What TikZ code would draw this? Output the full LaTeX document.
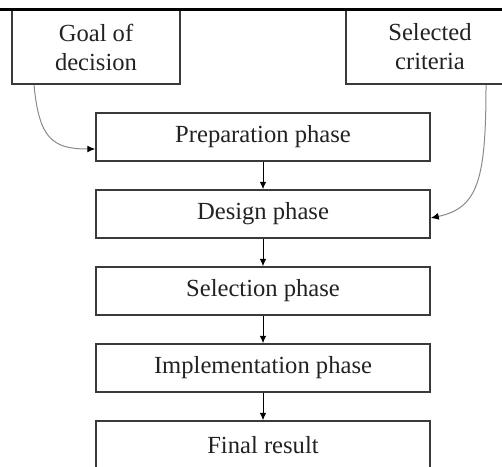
\documentclass[tikz,border=0pt]{standalone}
\usepackage{fontspec}
\setmainfont{Liberation Serif}
\usetikzlibrary{arrows.meta}
\definecolor{boxline}{HTML}{3A3A3A}
\definecolor{curveline}{HTML}{8A8A8A}
\definecolor{txt}{HTML}{222222}
\tikzset{
  phasebox/.style={draw=boxline, line width=1.5pt, minimum width=334pt,
    minimum height=48pt, inner sep=0pt, text=txt,
    font=\fontsize{24.6}{29}\selectfont},
  inputbox/.style={draw=boxline, line width=1.5pt, minimum width=168pt,
    minimum height=74pt, inner sep=0pt, align=center, text=txt,
    font=\fontsize{24.6}{29}\selectfont},
  flow/.style={draw=black, line width=0.9pt, -{Latex[length=7.5pt,width=6.5pt]}},
  feed/.style={draw=curveline, line width=1pt,
    -{Latex[length=8pt,width=7pt,color=black]}}
}
\begin{document}
\begin{tikzpicture}[x=1pt,y=-1pt]
  \useasboundingbox (0,0) rectangle (502,466);
  \clip (0,0) rectangle (502,466);

  % input boxes
  \node[inputbox] (goal) at (96,47) {Goal of\\decision};
  \node[inputbox] (crit) at (430,47) {Selected\\criteria};

  % rule along the top edge
  \draw[line width=3pt, black] (0,9) -- (502,9);

  % phases
  \node[phasebox] (prep)  at (263,137) {Preparation phase};
  \node[phasebox] (design) at (263,214) {Design phase};
  \node[phasebox] (select) at (263,291) {Selection phase};
  \node[phasebox] (impl)  at (263,368) {Implementation phase};
  \node[phasebox] (final) at (263,445) {Final result};

  % sequence of phases
  \draw[flow] (prep) -- (design);
  \draw[flow] (design) -- (select);
  \draw[flow] (select) -- (impl);
  \draw[flow] (impl) -- (final);

  % inputs feeding the phases
  \draw[feed] ([xshift=-62pt]goal.south)
    .. controls (39,138) and (52,149) .. ([yshift=-12pt]prep.west);
  \draw[feed] ([xshift=56pt]crit.south)
    .. controls (486,180) and (478,208) .. ([yshift=-4pt]design.east);
\end{tikzpicture}
\end{document}
